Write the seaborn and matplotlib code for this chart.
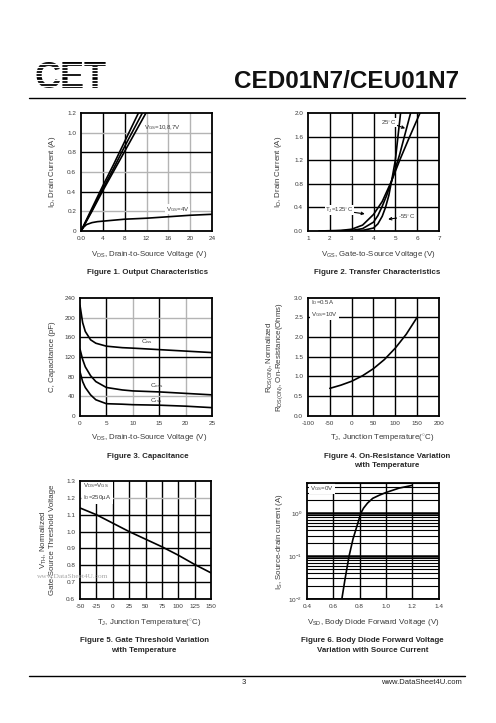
import matplotlib
matplotlib.use("Agg")
import matplotlib.pyplot as plt
import seaborn as sns
import pandas as pd
from matplotlib.lines import Line2D
from matplotlib.ticker import LogLocator, NullFormatter

W, H = 496, 723

# Figure 1: output characteristics
vds_lin = [0, 2, 4, 6, 8, 10, 12]
id_vgs10 = [0, 0.23, 0.46, 0.68, 0.91, 1.14, 1.37]
id_vgs8 = [0, 0.21, 0.43, 0.64, 0.86, 1.07, 1.28]
id_vgs7 = [0, 0.20, 0.41, 0.61, 0.81, 1.01, 1.21]
vds_4v = [0, 0.5, 1, 2, 3, 4, 6, 8, 12, 16, 20, 24]
id_vgs4 = [0, 0.04, 0.065, 0.085, 0.095, 0.10, 0.11, 0.12, 0.13, 0.145, 0.16, 0.17]

# Figure 2: transfer characteristics
vgs_125 = [1.5, 2.5, 3.0, 3.5, 4.0, 4.4, 4.83, 5.2, 5.6, 6.13]
id_125 = [0.0, 0.01, 0.03, 0.10, 0.28, 0.50, 0.85, 1.20, 1.55, 2.0]
vgs_25 = [2.0, 3.0, 3.5, 4.0, 4.2, 4.4, 4.6, 4.83, 5.2, 5.7]
id_25 = [0.0, 0.01, 0.04, 0.15, 0.26, 0.42, 0.60, 0.85, 1.30, 2.0]
vgs_m55 = [3.0, 3.5, 4.0, 4.2, 4.4, 4.55, 4.7, 4.83, 5.0, 5.24]
id_m55 = [0.0, 0.01, 0.05, 0.12, 0.25, 0.40, 0.60, 0.85, 1.20, 2.0]

# Figure 3: capacitance
vds_cap = [0, 0.5, 1, 2, 3, 5, 8, 10, 15, 20, 25]
ciss = [225, 190, 172, 155, 148, 142, 139, 138, 135, 132, 129]
coss = [136, 115, 100, 82, 70, 58, 53, 51, 49, 46, 43]
crss = [90, 70, 58, 43, 33, 25, 24, 23, 22, 20, 17]

# Figure 4: on-resistance vs temperature
tj_ron = [-50, -25, 0, 25, 50, 75, 100, 125, 150]
ron_norm = [0.70, 0.78, 0.88, 1.02, 1.20, 1.43, 1.72, 2.07, 2.50]

# Figure 5: gate threshold vs temperature
tj_vth = [-50, -25, 0, 25, 50, 75, 100, 125, 150]
vth_norm = [1.14, 1.10, 1.05, 1.00, 0.955, 0.91, 0.86, 0.805, 0.755]

# Figure 6: body diode forward voltage
vsd = [0.665, 0.69, 0.72, 0.75, 0.78, 0.81, 0.83, 0.86, 0.90, 0.95, 1.0, 1.1, 1.2]
isd = [0.01, 0.03, 0.1, 0.25, 0.5, 1.0, 1.3, 1.7, 2.2, 2.6, 3.0, 3.8, 4.4]

sns.set_style("white")
plt.rcParams['font.family'] = ['Liberation Sans', 'DejaVu Sans']
plt.rcParams['mathtext.fontset'] = 'custom'
plt.rcParams['mathtext.rm'] = 'Liberation Sans'
plt.rcParams['mathtext.it'] = 'Liberation Sans:italic'
plt.rcParams['mathtext.bf'] = 'Liberation Sans:bold'

GRAY = '#b4b4b4'
TXT = '#3a3a3a'

fig = plt.figure(figsize=(W / 100, H / 100), dpi=100)


def rect(l, t, r, b):
    return [l / W, 1 - b / H, (r - l) / W, (b - t) / H]


def ptext(x, y, s, **kw):
    kw.setdefault('ha', 'center')
    kw.setdefault('va', 'center')
    fig.text(x / W, 1 - y / H, s, **kw)


def style(ax, xlim, ylim, xticks, yticks, xlabels, ylabels, vgray=(), hgray=(), grid=True):
    ax.set_xlim(*xlim)
    ax.set_ylim(*ylim)
    ax.set_xticks(xticks)
    ax.set_xticklabels(xlabels)
    ax.set_yticks(yticks)
    ax.set_yticklabels(ylabels)
    if grid:
        for x in xticks[1:-1]:
            ax.axvline(x, color=GRAY if x in vgray else 'black', lw=1.0, zorder=1)
        for y in yticks[1:-1]:
            ax.axhline(y, color=GRAY if y in hgray else 'black', lw=1.0, zorder=1)
    for s in ax.spines.values():
        s.set_color('black')
        s.set_linewidth(1.3)
        s.set_zorder(5)
    ax.tick_params(length=0, labelsize=4.6, colors=TXT, pad=3.5)
    ax.set_xlabel('')
    ax.set_ylabel('')


def curve(ax, x, y, lw=1.2):
    sns.lineplot(x=x, y=y, ax=ax, color='black', lw=lw, estimator=None, sort=False, zorder=3)


# ---- header / footer
ptext(459, 82, 'CED01N7/CEU01N7', ha='right', fontsize=17.5, fontweight='bold', color='#111111')
ptext(70, 79, 'CET', fontsize=26, fontweight='bold', color='black')
for k in range(10):
    yy = 1 - (64.0 + k * 3.1) / H
    fig.add_artist(Line2D([28 / W, 114 / W], [yy, yy], color='white', lw=0.9, zorder=10))
fig.add_artist(Line2D([29 / W, 465 / W], [1 - 98.3 / H] * 2, color='black', lw=1.0))
fig.add_artist(Line2D([29 / W, 465 / W], [1 - 676 / H] * 2, color='black', lw=1.0))
ptext(244, 682, '3', fontsize=5.5, color='#222222')
ptext(462, 682, 'www.DataSheet4U.com', ha='right', fontsize=5.5, color='#222222')

# ---- Figure 1
ax1 = fig.add_axes(rect(81, 113, 212, 231))
style(ax1, (0, 24), (0, 1.2), [0, 4, 8, 12, 16, 20, 24], [0, 0.2, 0.4, 0.6, 0.8, 1.0, 1.2],
      ['0.0', '4', '8', '12', '16', '20', '24'], ['0', '0.2', '0.4', '0.6', '0.8', '1.0', '1.2'],
      vgray=(12, 16, 20), hgray=(0.2, 0.6, 1.0))
for ys in (id_vgs10, id_vgs8, id_vgs7):
    curve(ax1, vds_lin, ys)
curve(ax1, vds_4v, id_vgs4)
ax1.text(11.5, 1.055, r'V$_{\rm GS}$=10,8,7V', fontsize=4.4, color=TXT, va='center', zorder=4)
ax1.text(15.5, 0.22, r'V$_{\rm GS}$=4V', fontsize=4.4, color=TXT, va='center', zorder=4,
         bbox=dict(fc='white', ec='none', pad=0.3))
ptext(53, 172, r'I$_{\rm D}$, Drain Current (A)', rotation=90, fontsize=5.7, color=TXT)
ptext(149, 254, r'V$_{\rm DS}$, Drain-to-Source Voltage (V)', fontsize=5.7, color=TXT)
ptext(148, 272, 'Figure 1. Output Characteristics', fontsize=5.7, fontweight='bold')

# ---- Figure 2
ax2 = fig.add_axes(rect(308, 113, 439, 231))
style(ax2, (1, 7), (0, 2.0), [1, 2, 3, 4, 5, 6, 7], [0, 0.4, 0.8, 1.2, 1.6, 2.0],
      ['1', '2', '3', '4', '5', '6', '7'], ['0.0', '0.4', '0.8', '1.2', '1.6', '2.0'])
curve(ax2, vgs_125, id_125)
curve(ax2, vgs_25, id_25)
curve(ax2, vgs_m55, id_m55)
bb = dict(fc='white', ec='none', pad=0.4)
arr = dict(arrowstyle='->', color='black', lw=0.8, shrinkA=0, shrinkB=0)
ax2.annotate('25$^{\\circ}$C', xy=(5.45, 1.74), xytext=(4.35, 1.84), fontsize=4.4, color=TXT,
             va='center', bbox=bb, arrowprops=arr, zorder=4)
ax2.annotate('T$_{\\rm J}$=125$^{\\circ}$C', xy=(3.6, 0.29), xytext=(1.8, 0.35), fontsize=4.4,
             color=TXT, va='center', bbox=bb, arrowprops=arr, zorder=4)
ax2.annotate('-55$^{\\circ}$C', xy=(4.67, 0.2), xytext=(5.1, 0.24), fontsize=4.4, color=TXT,
             va='center', bbox=bb, arrowprops=arr, zorder=4)
ptext(279, 172, r'I$_{\rm D}$, Drain Current (A)', rotation=90, fontsize=5.7, color=TXT)
ptext(378, 254, r'V$_{\rm GS}$, Gate-to-Source Voltage (V)', fontsize=5.7, color=TXT)
ptext(377, 272, 'Figure 2. Transfer Characteristics', fontsize=5.7, fontweight='bold')

# ---- Figure 3
ax3 = fig.add_axes(rect(80, 298, 212, 416))
style(ax3, (0, 25), (0, 240), [0, 5, 10, 15, 20, 25], [0, 40, 80, 120, 160, 200, 240],
      ['0', '5', '10', '15', '20', '25'], ['0', '40', '80', '120', '160', '200', '240'],
      vgray=(10, 20), hgray=(40, 200))
curve(ax3, vds_cap, ciss)
curve(ax3, vds_cap, coss)
curve(ax3, vds_cap, crss)
ax3.text(11.6, 151, r'C$_{\rm iss}$', fontsize=4.6, color=TXT, va='center', zorder=4)
ax3.text(13.2, 62, r'C$_{\rm oss}$', fontsize=4.6, color=TXT, va='center', zorder=4)
ax3.text(13.2, 31, r'C$_{\rm rss}$', fontsize=4.6, color=TXT, va='center', zorder=4)
ptext(53, 357, 'C, Capacitance (pF)', rotation=90, fontsize=5.7, color=TXT)
ptext(149, 438, r'V$_{\rm DS}$, Drain-to-Source Voltage (V)', fontsize=5.7, color=TXT)
ptext(148, 457, 'Figure 3. Capacitance', fontsize=5.7, fontweight='bold')

# ---- Figure 4
ax4 = fig.add_axes(rect(308, 297.5, 439, 416))
style(ax4, (-100, 200), (0, 3.0), [-100, -50, 0, 50, 100, 150, 200],
      [0, 0.5, 1.0, 1.5, 2.0, 2.5, 3.0],
      ['-100', '-50', '0', '50', '100', '150', '200'],
      ['0.0', '0.5', '1.0', '1.5', '2.0', '2.5', '3.0'])
curve(ax4, tj_ron, ron_norm)
ax4.text(-93, 2.72, 'I$_{\\rm D}$=0.5A\nV$_{\\rm GS}$=10V', fontsize=4.4, color=TXT, va='center',
         linespacing=1.5, zorder=4, bbox=dict(fc='white', ec='none', pad=1.0))
ptext(270, 357, r'R$_{\rm DS(ON)}$, Normalized', rotation=90, fontsize=5.7, color=TXT)
ptext(279.5, 357, r'R$_{\rm DS(ON)}$, On-Resistance(Ohms)', rotation=90, fontsize=5.7, color=TXT)
ptext(382, 438, r'T$_{\rm J}$, Junction Temperature($^{\circ}$C)', fontsize=5.7, color=TXT)
ptext(387, 456, 'Figure 4. On-Resistance Variation', fontsize=5.7, fontweight='bold')
ptext(387, 465.7, 'with Temperature', fontsize=5.7, fontweight='bold')

# ---- Figure 5
ax5 = fig.add_axes(rect(80, 481, 211, 599))
style(ax5, (-50, 150), (0.6, 1.3), [-50, -25, 0, 25, 50, 75, 100, 125, 150],
      [0.6, 0.7, 0.8, 0.9, 1.0, 1.1, 1.2, 1.3],
      ['-50', '-25', '0', '25', '50', '75', '100', '125', '150'],
      ['0.6', '0.7', '0.8', '0.9', '1.0', '1.1', '1.2', '1.3'], hgray=(1.2,))
curve(ax5, tj_vth, vth_norm)
ax5.text(-45, 1.235, 'V$_{\\rm DS}$=V$_{\\rm GS}$\nI$_{\\rm D}$=250\u00b5A', fontsize=4.4, color=TXT,
         va='center', linespacing=1.5, zorder=4, bbox=dict(fc='white', ec='none', pad=1.0))
ptext(43.5, 540, r'V$_{\rm TH}$, Normalized', rotation=90, fontsize=5.7, color=TXT)
ptext(53, 540, 'Gate-Source Threshold Voltage', rotation=90, fontsize=5.7, color=TXT)
ptext(149, 623, r'T$_{\rm J}$, Junction Temperature($^{\circ}$C)', fontsize=5.7, color=TXT)
ptext(144, 641, 'Figure 5. Gate Threshold Variation', fontsize=5.7, fontweight='bold')
ptext(144, 650.5, 'with Temperature', fontsize=5.7, fontweight='bold')
ptext(73, 577, 'www.DataSheet4U.com', fontsize=5.3, color='#a8a8a8', family='Liberation Serif')

# ---- Figure 6
ax6 = fig.add_axes(rect(307, 483, 438.5, 599))
ax6.set_yscale('log')
style(ax6, (0.4, 1.4), (0.01, 5), [0.4, 0.6, 0.8, 1.0, 1.2, 1.4], [0.01, 0.1, 1],
      ['0.4', '0.6', '0.8', '1.0', '1.2', '1.4'],
      [r'10$^{-2}$', r'10$^{-1}$', r'10$^{0}$'], grid=False)
for x in (0.6, 0.8, 1.0, 1.2):
    ax6.axvline(x, color='black', lw=1.0, zorder=1)
ax6.yaxis.set_minor_locator(LogLocator(base=10, subs=range(2, 10)))
ax6.yaxis.set_minor_formatter(NullFormatter())
ax6.tick_params(which='minor', length=0)
ax6.grid(True, which='minor', axis='y', color='black', lw=0.8, zorder=1)
ax6.grid(True, which='major', axis='y', color='black', lw=1.8, zorder=1)
ax6.grid(False, axis='x')
ax6.set_axisbelow(True)
curve(ax6, vsd, isd)
ax6.text(0.425, 3.8, 'V$_{\\rm GS}$=0V', fontsize=4.4, color=TXT, va='center', zorder=4,
         bbox=dict(fc='white', ec='none', pad=0.8))
ptext(279.5, 542, r'I$_{\rm S}$, Source-drain current (A)', rotation=90, fontsize=5.7, color=TXT)
ptext(373, 623, r'V$_{\rm SD}$, Body Diode Forward Voltage (V)', fontsize=5.7, color=TXT)
ptext(372.5, 641, 'Figure 6. Body Diode Forward Voltage', fontsize=5.7, fontweight='bold')
ptext(372.5, 650.5, 'Variation with Source Current', fontsize=5.7, fontweight='bold')

fig.savefig('out.png', dpi=100)
